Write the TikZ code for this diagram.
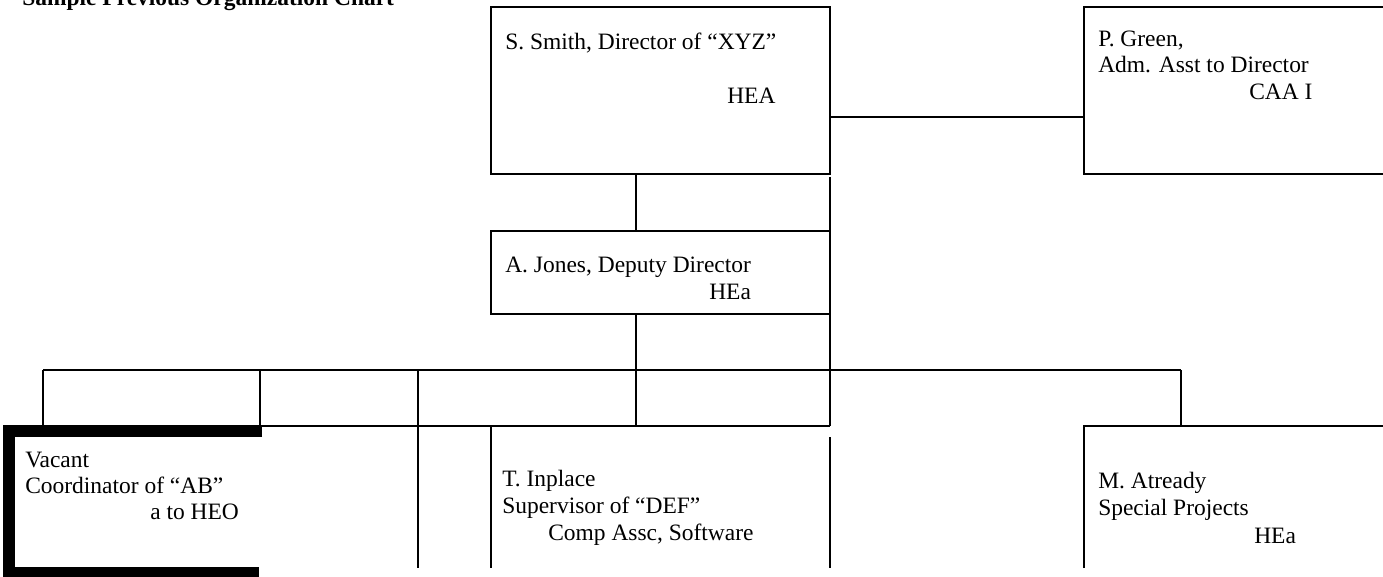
\documentclass[tikz,border=0pt]{standalone}
\usepackage{fontspec}
\setmainfont{Liberation Serif}
\begin{document}
\begin{tikzpicture}[x=0.75pt, y=-0.75pt,
    riquadro/.style={draw, line width=1.5pt, inner sep=0pt, outer sep=0pt},
    testo/.style={anchor=base west, inner sep=0pt, font=\fontsize{17.6}{20}\selectfont},
    linea/.style={line width=1.5pt},
    spesso/.style={line width=9pt}]
    % Area della pagina
    \useasboundingbox (0,0) rectangle (1383,577);
    \clip (0,0) rectangle (1383,577);

    % Titolo
    \node[testo, font=\fontsize{17.6}{20}\selectfont\bfseries] (titolo) at (22,6) {Sample Previous Organization Chart};

    % Direttore
    \node[riquadro, minimum width=254.25pt, minimum height=125.25pt] (smith) at (660.5,90.5) {};
    \node[testo] (smith1) at (505,50) {S. Smith, Director of “XYZ”};
    \node[testo] (smith2) at (727,104) {HEA};

    % Assistente
    \node[riquadro, minimum width=267pt, minimum height=125.25pt] (green) at (1262,90.5) {};
    \node[testo] (green1) at (1098,47) {P. Green,};
    \node[testo] (green2) at (1098,73) {Adm. Asst to Director};
    \node[testo] (green3) at (1249,100) {CAA I};

    % Vice direttore
    \node[riquadro, minimum width=254.25pt, minimum height=62.25pt] (jones) at (660.5,272.5) {};
    \node[testo] (jones1) at (505,272) {A. Jones, Deputy Director};
    \node[testo] (jones2) at (709,299) {HEa};

    % Posto vacante (bordo spesso, aperto a destra)
    \coordinate (vacA) at (262,431);
    \coordinate (vacB) at (9,431);
    \coordinate (vacC) at (9,573);
    \coordinate (vacD) at (259,573);
    \draw[spesso] (vacA) -- (vacB) -- (vacC) -- (vacD);
    \node[testo] (vac1) at (25,467) {Vacant};
    \node[testo] (vac2) at (25,493) {Coordinator of “AB”};
    \node[testo] (vac3) at (150,519) {a to HEO};

    % Supervisore
    \coordinate (supA) at (491,426);
    \coordinate (supB) at (491,568);
    \coordinate (supC) at (830,437);
    \coordinate (supD) at (830,568);
    \draw[linea] (supA) -- (supB);
    \draw[linea] (supC) -- (supD);
    \node[testo] (sup1) at (502,486) {T. Inplace};
    \node[testo] (sup2) at (502,513) {Supervisor of “DEF”};
    \node[testo] (sup3) at (548,540) {Comp Assc, Software};

    % Progetti speciali
    \coordinate (proA) at (1084,568);
    \coordinate (proB) at (1084,426);
    \coordinate (proC) at (1400,426);
    \draw[linea] (proA) -- (proB) -- (proC);
    \node[testo] (pro1) at (1098,488) {M. Atready};
    \node[testo] (pro2) at (1098,515) {Special Projects};
    \node[testo] (pro3) at (1254,543) {HEa};

    % Collegamenti in alto
    \coordinate (hAss) at (0,117);
    \draw[linea] (smith.east |- hAss) -- (green.west |- hAss);
    \coordinate (xC) at (636,0);
    \coordinate (xD) at (830,0);
    \draw[linea] (smith.south -| xC) -- (jones.north -| xC);
    \draw[linea] (jones.south -| xC) -- (xC |- supA);
    \draw[linea] (xD |- 0,177) -- (xD |- supA);

    % Barra orizzontale e discese
    \coordinate (b1) at (43,370);
    \coordinate (b2) at (260,370);
    \coordinate (b3) at (418,370);
    \coordinate (b6) at (1181,370);
    \draw[linea] (b1) -- (b6);
    \draw[linea] (b1) -- (b1 |- vacB);
    \draw[linea] (b2) -- (b2 |- supA);
    \draw[linea] (b3) -- (b3 |- supB);
    \draw[linea] (b6) -- (b6 |- proB);
    \draw[linea] (b2 |- supA) -- (xD |- supA);

\end{tikzpicture}
\end{document}
